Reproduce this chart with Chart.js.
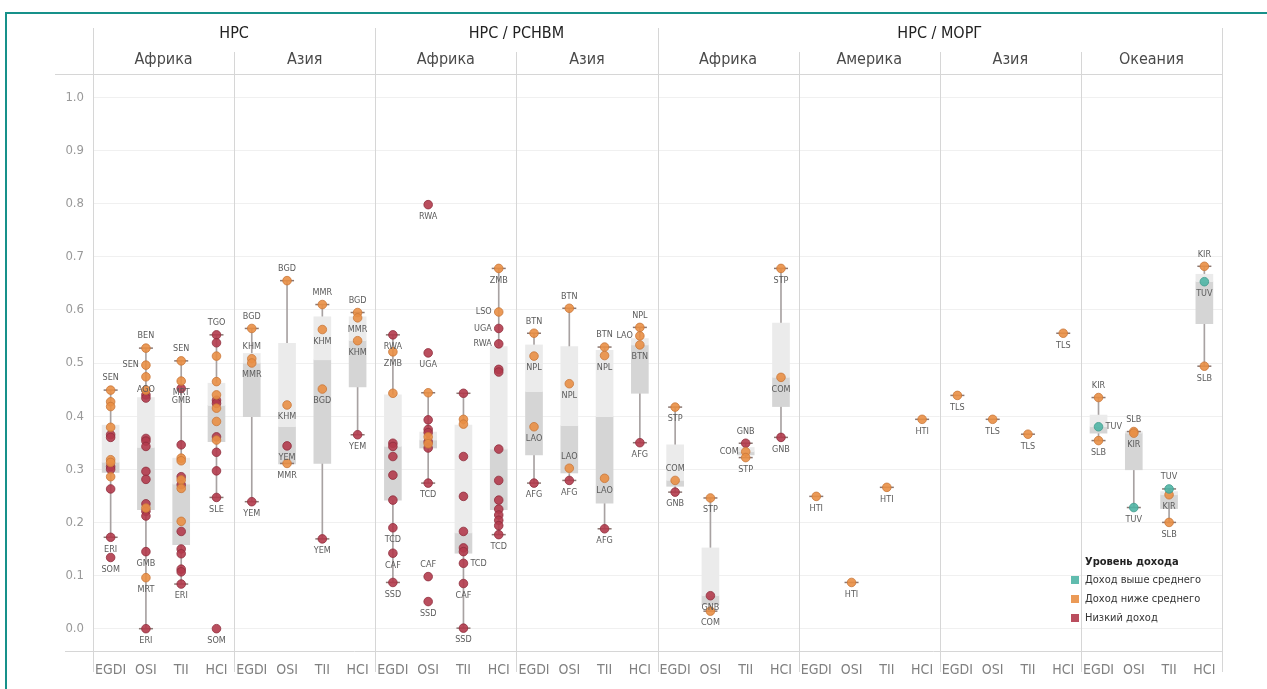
<!DOCTYPE html>
<html>
<head>
<meta charset="utf-8">
<script src="https://cdn.jsdelivr.net/npm/chart.js@4"></script>
<style>
  html, body { margin: 0; padding: 0; background: #fff; overflow: hidden; }
  #wrap { position: relative; width: 1267px; height: 689px; overflow: hidden; }
  #frame { position: absolute; left: 5px; top: 12px; right: -20px; bottom: -20px; border: 2px solid #17918a; pointer-events: none; }
  canvas { position: absolute; left: 0; top: 0; }
</style>
</head>
<body>
<div id="wrap">
  <canvas id="chart" width="1267" height="689"></canvas>
  <div id="frame"></div>
</div>
<script>
const FONT = "'Liberation Sans Narrow', 'DejaVu Sans Condensed', 'Roboto', sans-serif";

const metrics = ["EGDI", "OSI", "TII", "HCI"];
const groupNames = ["НРС", "НРС / РСНВМ", "НРС / МОРГ"];
const groupPanels = [2, 2, 4];
const regionNames = ["Африка", "Азия", "Африка", "Азия", "Африка", "Америка", "Азия", "Океания"];
const incomeNames = ["Доход выше среднего", "Доход ниже среднего", "Низкий доход"];
const yTicks = [0, 0.1, 0.2, 0.3, 0.4, 0.5, 0.6, 0.7, 0.8, 0.9, 1.0];

// [metric, value, income (0 выше, 1 ниже, 2 низкий), code, label side]
const ptsNrsAfr = [
	[0, 0.449, 1, "SEN", "t"], [0, 0.427, 1], [0, 0.418, 1], [0, 0.379, 1], [0, 0.365, 2], [0, 0.360, 2],
	[0, 0.318, 1], [0, 0.313, 1], [0, 0.305, 2], [0, 0.300, 2], [0, 0.286, 1], [0, 0.263, 2],
	[0, 0.172, 2, "ERI", "b"], [0, 0.134, 2, "SOM", "b"],
	[1, 0.528, 1, "BEN", "t"], [1, 0.496, 1, "SEN", "l"], [1, 0.474, 1], [1, 0.449, 1, "AGO", "c"],
	[1, 0.440, 2], [1, 0.434, 2], [1, 0.358, 2], [1, 0.353, 2], [1, 0.343, 2], [1, 0.296, 2],
	[1, 0.281, 2], [1, 0.235, 2], [1, 0.227, 1], [1, 0.221, 2], [1, 0.212, 2],
	[1, 0.145, 2, "GMB", "b"], [1, 0.096, 1, "MRT", "b"], [1, 0.0, 2, "ERI", "b"],
	[2, 0.504, 1, "SEN", "t"], [2, 0.466, 1, "MRT", "b"], [2, 0.452, 2, "GMB", "b"], [2, 0.346, 2],
	[2, 0.321, 1], [2, 0.316, 1], [2, 0.286, 2], [2, 0.280, 1], [2, 0.271, 2], [2, 0.264, 1],
	[2, 0.202, 1], [2, 0.183, 2], [2, 0.150, 2], [2, 0.141, 2], [2, 0.112, 2], [2, 0.107, 2],
	[2, 0.084, 2, "ERI", "b"],
	[3, 0.553, 2, "TGO", "t"], [3, 0.538, 2], [3, 0.513, 1], [3, 0.465, 1], [3, 0.440, 1], [3, 0.430, 2],
	[3, 0.424, 2], [3, 0.415, 1], [3, 0.390, 1], [3, 0.361, 2], [3, 0.355, 1], [3, 0.332, 2],
	[3, 0.297, 2], [3, 0.247, 2, "SLE", "b"], [3, 0.0, 2, "SOM", "b"]
];
const ptsNrsAsia = [
	[0, 0.565, 1, "BGD", "t"], [0, 0.508, 1, "KHM", "t"], [0, 0.500, 1, "MMR", "b"], [0, 0.239, 2, "YEM", "b"],
	[1, 0.655, 1, "BGD", "t"], [1, 0.421, 1, "KHM", "b"], [1, 0.344, 2, "YEM", "b"], [1, 0.311, 1, "MMR", "b"],
	[2, 0.610, 1, "MMR", "t"], [2, 0.563, 1, "KHM", "b"], [2, 0.451, 1, "BGD", "b"], [2, 0.169, 2, "YEM", "b"],
	[3, 0.595, 1, "BGD", "t"], [3, 0.585, 1, "MMR", "b"], [3, 0.542, 1, "KHM", "b"], [3, 0.365, 2, "YEM", "b"]
];
const ptsRsnvmAfr = [
	[0, 0.553, 2, "RWA", "b"], [0, 0.521, 1, "ZMB", "b"], [0, 0.443, 1], [0, 0.349, 2], [0, 0.343, 2],
	[0, 0.324, 2], [0, 0.289, 2], [0, 0.242, 2], [0, 0.190, 2, "TCD", "b"], [0, 0.142, 2, "CAF", "b"],
	[0, 0.087, 2, "SSD", "b"],
	[1, 0.798, 2, "RWA", "b"], [1, 0.519, 2, "UGA", "b"], [1, 0.444, 1], [1, 0.393, 2], [1, 0.375, 2],
	[1, 0.369, 2], [1, 0.361, 1], [1, 0.352, 2], [1, 0.348, 1], [1, 0.340, 2], [1, 0.274, 2, "TCD", "b"],
	[1, 0.098, 2, "CAF", "t"], [1, 0.051, 2, "SSD", "b"],
	[2, 0.443, 2], [2, 0.394, 1], [2, 0.385, 1], [2, 0.324, 2], [2, 0.249, 2], [2, 0.183, 2],
	[2, 0.152, 2], [2, 0.145, 2], [2, 0.123, 2, "TCD", "r"], [2, 0.085, 2, "CAF", "b"], [2, 0.001, 2, "SSD", "b"],
	[3, 0.678, 1, "ZMB", "b"], [3, 0.596, 1, "LSO", "l"], [3, 0.565, 2, "UGA", "l"], [3, 0.536, 2, "RWA", "l"],
	[3, 0.488, 2], [3, 0.483, 2], [3, 0.338, 2], [3, 0.279, 2], [3, 0.242, 2], [3, 0.225, 2],
	[3, 0.214, 2], [3, 0.204, 2], [3, 0.194, 2], [3, 0.177, 2, "TCD", "b"]
];
const ptsRsnvmAsia = [
	[0, 0.556, 1, "BTN", "t"], [0, 0.513, 1, "NPL", "b"], [0, 0.380, 1, "LAO", "b"], [0, 0.274, 2, "AFG", "b"],
	[1, 0.603, 1, "BTN", "t"], [1, 0.461, 1, "NPL", "b"], [1, 0.302, 1, "LAO", "t"], [1, 0.279, 2, "AFG", "b"],
	[2, 0.530, 1, "BTN", "t"], [2, 0.514, 1, "NPL", "b"], [2, 0.283, 1, "LAO", "b"], [2, 0.188, 2, "AFG", "b"],
	[3, 0.567, 1, "NPL", "t"], [3, 0.551, 1, "LAO", "l"], [3, 0.534, 1, "BTN", "b"], [3, 0.350, 2, "AFG", "b"]
];
const ptsMorgAfr = [
	[0, 0.417, 1, "STP", "b"], [0, 0.279, 1, "COM", "t"], [0, 0.257, 2, "GNB", "b"],
	[1, 0.246, 1, "STP", "b"], [1, 0.062, 2, "GNB", "b"], [1, 0.033, 1, "COM", "b"],
	[2, 0.349, 2, "GNB", "t"], [2, 0.333, 1, "COM", "l"], [2, 0.322, 1, "STP", "b"],
	[3, 0.678, 1, "STP", "b"], [3, 0.473, 1, "COM", "b"], [3, 0.360, 2, "GNB", "b"]
];
const ptsMorgAmer = [
	[0, 0.249, 1, "HTI", "b"], [1, 0.087, 1, "HTI", "b"], [2, 0.266, 1, "HTI", "b"], [3, 0.394, 1, "HTI", "b"]
];
const ptsMorgAsia = [
	[0, 0.439, 1, "TLS", "b"], [1, 0.394, 1, "TLS", "b"], [2, 0.366, 1, "TLS", "b"], [3, 0.556, 1, "TLS", "b"]
];
const ptsMorgOce = [
	[0, 0.435, 1, "KIR", "t"], [0, 0.380, 0, "TUV", "r"], [0, 0.354, 1, "SLB", "b"],
	[1, 0.371, 1, "SLB", "t"], [1, 0.368, 1, "KIR", "b"], [1, 0.228, 0, "TUV", "b"],
	[2, 0.263, 0, "TUV", "t"], [2, 0.252, 1, "KIR", "b"], [2, 0.200, 1, "SLB", "b"],
	[3, 0.682, 1, "KIR", "t"], [3, 0.653, 0, "TUV", "b"], [3, 0.494, 1, "SLB", "b"]
];

// box plot per column (8 panels x 4 metrics)
const boxQ1 = [
	0.294, 0.224, 0.158, 0.352,  0.399, 0.310, 0.311, 0.455,
	0.242, 0.340, 0.142, 0.224,  0.327, 0.293, 0.236, 0.443,
	0.268, 0.045, 0.327, 0.418,  null, null, null, null,
	null, null, null, null,      0.368, 0.299, 0.226, 0.574
];
const boxMed = [
	0.313, 0.341, 0.272, 0.420,  0.500, 0.380, 0.506, 0.542,
	0.343, 0.355, 0.180, 0.338,  0.446, 0.382, 0.399, 0.534,
	0.279, 0.062, 0.333, 0.473,  null, null, null, null,
	null, null, null, null,      0.380, 0.368, 0.252, 0.653
];
const boxQ3 = [
	0.383, 0.435, 0.321, 0.462,  0.518, 0.537, 0.587, 0.587,
	0.440, 0.370, 0.383, 0.531,  0.534, 0.531, 0.524, 0.546,
	0.346, 0.152, 0.341, 0.575,  null, null, null, null,
	null, null, null, null,      0.402, 0.371, 0.258, 0.667
];
const whiskerLo = [
	0.172, 0.0, 0.084, 0.247,    0.239, 0.311, 0.169, 0.365,
	0.087, 0.274, 0.001, 0.177,  0.274, 0.279, 0.188, 0.350,
	0.257, 0.033, 0.322, 0.360,  0.249, 0.087, 0.266, 0.394,
	0.439, 0.394, 0.366, 0.556,  0.354, 0.228, 0.200, 0.494
];
const whiskerHi = [
	0.449, 0.528, 0.504, 0.553,  0.565, 0.655, 0.610, 0.595,
	0.553, 0.444, 0.443, 0.678,  0.556, 0.603, 0.530, 0.567,
	0.417, 0.246, 0.349, 0.678,  0.249, 0.087, 0.266, 0.394,
	0.439, 0.394, 0.366, 0.556,  0.435, 0.371, 0.263, 0.682
];

const incomeFill = ["rgba(79,181,165,0.9)", "rgba(233,143,69,0.9)", "rgba(178,59,76,0.9)"];
const incomeLine = ["#3e9a8b", "#c9773a", "#8f2f3d"];

const panelPoints = [ptsNrsAfr, ptsNrsAsia, ptsRsnvmAfr, ptsRsnvmAsia, ptsMorgAfr, ptsMorgAmer, ptsMorgAsia, ptsMorgOce];
const allPts = panelPoints.flatMap((arr, p) => arr.map(r => ({
	x: 4 * p + r[0], y: r[1], inc: r[2], code: r[3] || "", side: r[4] || "b"
})));
const cols = whiskerLo.map((_, i) => i);
const boxCols = cols.filter(i => boxMed[i] != null);

const datasets = [0, 1, 2].map(k => ({
	type: "scatter",
	data: allPts.filter(d => d.inc === k),
	pointRadius: 4.3,
	pointHoverRadius: 4.3,
	backgroundColor: incomeFill[k],
	borderColor: incomeLine[k],
	borderWidth: 0.8,
	order: 0
}));
datasets.push({
	type: "scatter",
	data: cols.flatMap(i => whiskerLo[i] === whiskerHi[i]
		? [{ x: i, y: whiskerLo[i] }]
		: [{ x: i, y: whiskerLo[i] }, { x: i, y: whiskerHi[i] }]),
	pointStyle: "line",
	pointRadius: 7,
	borderColor: "#8a7772",
	borderWidth: 1.5,
	order: 1
});
datasets.push({
	type: "bar",
	data: boxCols.map(i => ({ x: i, y: [boxMed[i], boxQ3[i]] })),
	backgroundColor: "#ebebeb",
	barThickness: 17,
	grouped: false,
	order: 2
});
datasets.push({
	type: "bar",
	data: boxCols.map(i => ({ x: i, y: [boxQ1[i], boxMed[i]] })),
	backgroundColor: "#d5d5d5",
	barThickness: 17,
	grouped: false,
	order: 2
});
datasets.push({
	type: "bar",
	data: cols.filter(i => whiskerHi[i] > whiskerLo[i]).map(i => ({ x: i, y: [whiskerLo[i], whiskerHi[i]] })),
	backgroundColor: "#a8a2a2",
	barThickness: 1,
	grouped: false,
	order: 3
});

const decor = {
	id: "decor",
	beforeDatasetsDraw(chart) {
		const { ctx, scales: { x } } = chart;
		ctx.save();
		ctx.strokeStyle = "#d6d6d6";
		ctx.lineWidth = 1;
		ctx.beginPath();
		ctx.moveTo(55, 74.5); ctx.lineTo(1223, 74.5);
		ctx.moveTo(65, 651.5); ctx.lineTo(1223, 651.5);
		const groupEdges = [0];
		groupPanels.forEach(n => groupEdges.push(groupEdges[groupEdges.length - 1] + n));
		for (let p = 0; p <= regionNames.length; p++) {
			const px = Math.round(x.getPixelForValue(4 * p - 0.5)) + 0.5;
			const top = groupEdges.includes(p) ? 28 : 52;
			ctx.moveTo(px, top); ctx.lineTo(px, 672);
		}
		ctx.stroke();
		ctx.restore();
	},
	afterDatasetsDraw(chart) {
		const { ctx, scales: { x, y } } = chart;
		ctx.save();
		ctx.font = "9px " + FONT;
		ctx.fillStyle = "#5b5b5b";
		ctx.textBaseline = "middle";
		allPts.forEach(d => {
			if (!d.code) return;
			const px = x.getPixelForValue(d.x), py = y.getPixelForValue(d.y);
			let tx = px, ty = py, align = "center";
			if (d.side === "b") ty = py + 12;
			else if (d.side === "t") ty = py - 12;
			else if (d.side === "l") { tx = px - 7; align = "right"; }
			else if (d.side === "r") { tx = px + 7; align = "left"; }
			ctx.textAlign = align;
			ctx.fillText(d.code, tx, ty);
		});

		// headers
		ctx.textAlign = "center";
		ctx.font = "16px " + FONT;
		ctx.fillStyle = "#222";
		let start = 0;
		groupNames.forEach((name, g) => {
			const a = x.getPixelForValue(4 * start - 0.5);
			const b = x.getPixelForValue(4 * (start + groupPanels[g]) - 0.5);
			ctx.fillText(name, (a + b) / 2, 34);
			start += groupPanels[g];
		});
		ctx.fillStyle = "#4a4a4a";
		regionNames.forEach((name, p) => {
			ctx.fillText(name, x.getPixelForValue(4 * p + 1.5), 60);
		});

		// legend
		ctx.textAlign = "left";
		ctx.font = "bold 11px " + FONT;
		ctx.fillStyle = "#222";
		ctx.fillText("Уровень дохода", 1085, 562);
		ctx.font = "11px " + FONT;
		incomeNames.forEach((name, k) => {
			const ly = 580 + k * 19;
			ctx.fillStyle = incomeFill[k];
			ctx.fillRect(1071, ly - 4, 8, 8);
			ctx.fillStyle = "#333";
			ctx.fillText(name, 1085, ly);
		});
		ctx.restore();
	}
};

new Chart(document.getElementById("chart"), {
	type: "scatter",
	data: { datasets },
	options: {
		responsive: false,
		animation: false,
		layout: { padding: { top: 75, right: 45, bottom: 0, left: 0 } },
		scales: {
			x: {
				type: "linear",
				offset: false,
				min: -0.5,
				max: 31.5,
				afterBuildTicks: axis => (axis.ticks = cols.map(value => ({ value }))),
				afterFit: axis => { axis.height = 38; },
				ticks: {
					callback: v => metrics[v % 4],
					color: "#808080",
					font: { family: FONT, size: 14 },
					padding: 3,
					autoSkip: false,
					maxRotation: 0
				},
				grid: { display: false },
				border: { display: false }
			},
			y: {
				min: -0.042,
				max: 1.042,
				afterBuildTicks: axis => (axis.ticks = yTicks.map(value => ({ value }))),
				afterFit: axis => { axis.width = 93; },
				ticks: {
					callback: v => v.toFixed(1),
					color: "#999",
					font: { family: FONT, size: 13 },
					padding: 9
				},
				grid: { color: "#f0f0f0", drawTicks: false },
				border: { display: false }
			}
		},
		plugins: {
			legend: { display: false },
			tooltip: { enabled: false }
		}
	},
	plugins: [decor]
});
</script>
</body>
</html>
